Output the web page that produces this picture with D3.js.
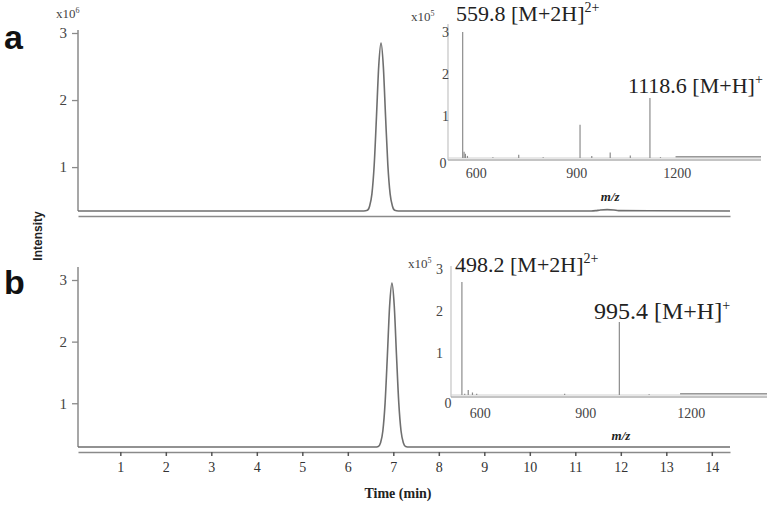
<!DOCTYPE html>
<html>
<head>
<meta charset="utf-8">
<script src="https://cdn.jsdelivr.net/npm/d3@7"></script>
<style>
  body { margin: 0; background: #fff; }
  text { font-family: "Liberation Serif", "Times New Roman", serif; }
</style>
</head>
<body>
<script>
// Chromatogram traces (intensity in x10^6)
const timeA = [0.07, 6.35, 6.43, 6.48, 6.53, 6.58, 6.63, 6.68, 6.73, 6.78, 6.83, 6.88, 6.93, 6.98, 7.03, 7.11, 11.35, 11.45, 11.55, 11.7, 11.85, 11.95, 14.4];
const intA  = [0.345, 0.345, 0.355, 0.42, 0.60, 1.03, 1.75, 2.51, 2.85, 2.51, 1.75, 1.03, 0.60, 0.42, 0.355, 0.345, 0.345, 0.35, 0.36, 0.365, 0.36, 0.35, 0.345];
const timeB = [0.07, 6.6, 6.67, 6.72, 6.77, 6.82, 6.87, 6.92, 6.97, 7.02, 7.07, 7.12, 7.17, 7.22, 7.27, 7.35, 14.4];
const intB  = [0.29, 0.29, 0.30, 0.36, 0.55, 1.01, 1.78, 2.59, 2.95, 2.59, 1.78, 1.01, 0.55, 0.36, 0.30, 0.29, 0.29];
const timeTicks = [1, 2, 3, 4, 5, 6, 7, 8, 9, 10, 11, 12, 13, 14];
const intTicks = [1, 2, 3];

// Mass spectra insets (intensity in x10^5)
const mzA  = [559.8, 564, 568, 574, 650, 727, 800, 910, 945, 1000, 1060, 1118.6, 1150];
const specA = [3.0, 0.15, 0.1, 0.05, 0.02, 0.08, 0.02, 0.79, 0.05, 0.13, 0.06, 1.43, 0.02];
const mzB  = [548, 556, 566, 578, 590, 840, 995.4, 1080];
const specB = [2.69, 0.03, 0.12, 0.06, 0.03, 0.03, 1.74, 0.02];
const mzTicks = [600, 900, 1200];
const specTicks = [1, 2, 3];
const plateauA = [1195, 1450];
const plateauB = [1168, 1415];

const labelsA = [{ text: "559.8 [M+2H]", sup: "2+", size: 22 }, { text: "1118.6 [M+H]", sup: "+", size: 22 }];
const labelsB = [{ text: "498.2 [M+2H]", sup: "2+", size: 22 }, { text: "995.4 [M+H]", sup: "+", size: 24 }];

const svg = d3.select("body").append("svg")
  .attr("width", 779)
  .attr("height", 510);

const sans = "'Liberation Sans', Arial, sans-serif";

// shared time scale
const x = d3.scaleLinear().domain([0.07, 14.4]).range([78, 730]);

const panels = [
  { time: timeA, vals: intA, y: d3.scaleLinear().domain([0.345, 3]).range([211, 33]), top: 30, axisY: 216, letter: "a", letterY: 49, ticks: false },
  { time: timeB, vals: intB, y: d3.scaleLinear().domain([0.29, 3]).range([447, 280]), top: 267, axisY: 452, letter: "b", letterY: 294, ticks: true }
];

const line = d3.line().curve(d3.curveMonotoneX);

panels.forEach(p => {
  const g = svg.append("g");

  // y axis
  g.append("line")
    .attr("x1", x(0.07)).attr("x2", x(0.07))
    .attr("y1", p.top).attr("y2", p.y.range()[0])
    .attr("stroke", "#8a8a8a").attr("stroke-width", 1.5);
  const ya = g.append("g")
    .attr("transform", `translate(${x(0.07)},0)`)
    .call(d3.axisLeft(p.y).tickValues(intTicks).tickSize(6).tickPadding(5).tickFormat(d3.format("d")));
  ya.select(".domain").remove();
  ya.selectAll(".tick line").attr("stroke", "#8a8a8a").attr("stroke-width", 1.3);
  ya.selectAll(".tick text").attr("font-size", 15).attr("fill", "#444");

  // x axis (second line under the trace)
  const xa = g.append("g")
    .attr("transform", `translate(0,${p.axisY})`)
    .call(d3.axisBottom(x).tickValues(p.ticks ? timeTicks : []).tickSize(4).tickPadding(6).tickSizeOuter(0));
  xa.select(".domain").attr("stroke", "#8a8a8a").attr("stroke-width", 1.6);
  xa.selectAll(".tick line").attr("stroke", "#555").attr("stroke-width", 1.5);
  xa.selectAll(".tick text").attr("font-size", 14).attr("fill", "#333");

  // trace
  g.append("path")
    .datum(p.time.map((t, i) => [x(t), p.y(p.vals[i])]))
    .attr("d", line)
    .attr("fill", "none")
    .attr("stroke", "#6f6f6f")
    .attr("stroke-width", 1.6);

  // panel letter
  g.append("text")
    .attr("x", 4).attr("y", p.letterY)
    .style("font-family", sans)
    .attr("font-weight", "bold").attr("font-size", 34)
    .attr("fill", "#111")
    .text(p.letter);
});

// x10^6 multiplier
const mult = svg.append("text").attr("x", 56).attr("y", 18).attr("font-size", 13).attr("fill", "#444");
mult.append("tspan").text("x10");
mult.append("tspan").attr("dy", -5).attr("font-size", 8).attr("fill", "#444").text("6");

// y axis title
svg.append("text")
  .attr("transform", "translate(42,236) rotate(-90)")
  .attr("text-anchor", "middle")
  .style("font-family", sans)
  .attr("font-weight", "bold").attr("font-size", 12)
  .attr("fill", "#222")
  .text("Intensity");

// x axis title
svg.append("text")
  .attr("x", 398).attr("y", 498)
  .attr("text-anchor", "middle")
  .attr("font-weight", "bold").attr("font-size", 14)
  .attr("fill", "#222")
  .text("Time (min)");

// ---- insets ----
const insets = [
  { mz: mzA, vals: specA, plateau: plateauA, labels: labelsA,
    x: d3.scaleLinear().domain([516, 1450]).range([448, 761]),
    y: d3.scaleLinear().domain([0, 3]).range([158, 32]),
    top: 24, labelPos: [[456, 21], [628, 93]], multX: 411, multY: 21, zeroX: 443, zeroY: 168, tickX: 449, tickLabelY: 178, mzLabelY: 201 },
  { mz: mzB, vals: specB, plateau: plateauB, labels: labelsB,
    x: d3.scaleLinear().domain([517, 1415]).range([451, 767]),
    y: d3.scaleLinear().domain([0, 3]).range([395, 269]),
    top: 266, labelPos: [[455, 272], [594, 319]], multX: 408, multY: 268, zeroX: 448, zeroY: 408, tickX: 443, tickLabelY: 418, mzLabelY: 440 }
];

insets.forEach(s => {
  const g = svg.append("g");
  const x0 = s.x.range()[0], x1 = s.x.range()[1];
  const base = s.y(0);

  // axes
  g.append("line").attr("x1", x0).attr("x2", x0).attr("y1", s.top).attr("y2", base + 2)
    .attr("stroke", "#c4c4c4").attr("stroke-width", 1.2);
  g.append("line").attr("x1", x0).attr("x2", x1).attr("y1", base + 2).attr("y2", base + 2)
    .attr("stroke", "#b0b0b0").attr("stroke-width", 1.5);
  g.append("line").attr("x1", x0).attr("x2", x1).attr("y1", base).attr("y2", base)
    .attr("stroke", "#d0d0d0").attr("stroke-width", 1);

  // raised noise plateau
  g.append("line")
    .attr("x1", s.x(s.plateau[0])).attr("x2", s.x(s.plateau[1]))
    .attr("y1", s.y(0.03)).attr("y2", s.y(0.03))
    .attr("stroke", "#999").attr("stroke-width", 1.5);

  // sticks
  g.selectAll("line.stick")
    .data(d3.zip(s.mz, s.vals))
    .join("line")
    .attr("class", "stick")
    .attr("x1", d => s.x(d[0])).attr("x2", d => s.x(d[0]))
    .attr("y1", base).attr("y2", d => s.y(d[1]))
    .attr("stroke", "#8c8c8c").attr("stroke-width", 1.2);

  // y tick labels
  g.selectAll("text.ytick")
    .data(specTicks)
    .join("text")
    .attr("class", "ytick")
    .attr("x", s.tickX).attr("y", d => s.y(d) + 5)
    .attr("text-anchor", "end").attr("font-size", 14).attr("fill", "#444")
    .text(d => d);
  g.append("text").attr("x", s.zeroX).attr("y", s.zeroY)
    .attr("text-anchor", "middle").attr("font-size", 14).attr("fill", "#444").text("0");

  // x tick labels
  g.selectAll("text.xtick")
    .data(mzTicks)
    .join("text")
    .attr("class", "xtick")
    .attr("x", d => s.x(d)).attr("y", s.tickLabelY)
    .attr("text-anchor", "middle").attr("font-size", 14).attr("fill", "#444")
    .text(d => d);

  g.append("text")
    .attr("x", s.x(1000)).attr("y", s.mzLabelY)
    .attr("text-anchor", "middle")
    .attr("font-weight", "bold").attr("font-style", "italic").attr("font-size", 13)
    .attr("fill", "#222")
    .text("m/z");

  // multiplier
  const m = g.append("text").attr("x", s.multX).attr("y", s.multY).attr("font-size", 13).attr("fill", "#444");
  m.append("tspan").text("x10");
  m.append("tspan").attr("dy", -5).attr("font-size", 8).attr("fill", "#444").text("5");

  // peak annotations
  s.labels.forEach((l, i) => {
    const t = g.append("text")
      .attr("x", s.labelPos[i][0]).attr("y", s.labelPos[i][1])
      .attr("font-size", l.size).attr("fill", "#222");
    t.append("tspan").text(l.text);
    t.append("tspan").attr("dy", -9).attr("font-size", 14).attr("fill", "#222").text(l.sup);
  });
});
</script>
</body>
</html>
